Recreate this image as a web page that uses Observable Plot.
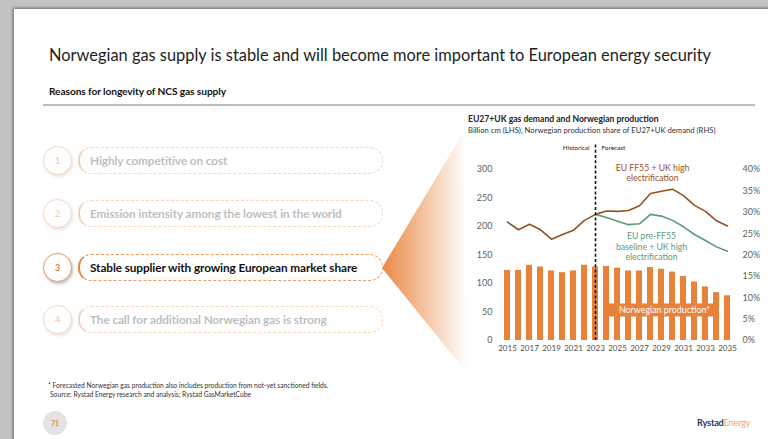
<!DOCTYPE html>
<html>
<head>
<meta charset="utf-8">
<script src="https://cdn.jsdelivr.net/npm/d3@7"></script>
<script src="https://cdn.jsdelivr.net/npm/@observablehq/plot@0.6"></script>
<style>
  html, body { margin: 0; padding: 0; }
  body { width: 768px; height: 439px; overflow: hidden; background: #c2c2c2; font-family: Lato, "Open Sans", sans-serif; }
  #slide { position: absolute; left: 14px; top: 9px; width: 770px; height: 440px; background: #fff;
           box-shadow: -1px -1px 3px rgba(0,0,0,0.45); }
  .abs { position: absolute; white-space: nowrap; }
  #title { left: 49px; top: 45px; font-size: 16.4px; color: #1e1e1e; }
  #sub { left: 49px; top: 85px; font-size: 10.2px; font-weight: 700; color: #111; letter-spacing: -0.1px; }
  #hr { left: 43px; top: 104px; width: 712px; height: 2px; background: #bdbdbd; }
  .item { position: absolute; left: 43px; height: 30px; }
  .circ { position: absolute; left: 0; top: 0; width: 27px; height: 27px; border-radius: 50%;
          border: 1.5px solid #ef9a5e; background: #fff; display: flex; align-items: center; justify-content: center;
          font-size: 9px; font-weight: 700; color: #e8823a; box-shadow: 1px 2px 3px rgba(0,0,0,0.25); }
  .pill { position: absolute; left: 35px; top: 1px; width: 292px; height: 25px; border-radius: 13px;
          border: 1px dashed #ef9a5e; border-left: 2px solid #e8823a; background: #fff;
          display: flex; align-items: center; padding-left: 10px; box-sizing: content-box;
          font-size: 11.8px; font-weight: 700; color: #111; letter-spacing: -0.1px; }
  .faded { opacity: 0.38; }
  .faded .pill { color: #555; }
  #ctitle { left: 468px; top: 114px; font-size: 8.6px; font-weight: 700; color: #222; }
  #csub { left: 468px; top: 125px; font-size: 7.7px; color: #333; }
  #chart { position: absolute; left: 460px; top: 140px; }
  #foot1 { left: 48px; top: 381px; font-size: 6.7px; color: #333; }
  #foot2 { left: 50px; top: 390px; font-size: 6.7px; color: #333; }
  #pnum { left: 43px; top: 411px; width: 24px; height: 24px; border-radius: 50%; background: #e3e3e3;
          display: flex; align-items: center; justify-content: center; font-size: 6.5px; color: #e8823a; font-weight: 700; }
  #logo { left: 697px; top: 417px; font-size: 9.2px; font-weight: 700; color: #2b3a55; letter-spacing: -0.2px; }
  #logo span { color: #f2a467; font-weight: 400; }
</style>
</head>
<body>
<div id="slide"></div>
<svg class="abs" style="left:0;top:0" width="768" height="439" id="deco">
  <defs>
    <linearGradient id="fan" x1="0" x2="1" y1="0" y2="0">
      <stop offset="0" stop-color="#e8823a" stop-opacity="0.95"/>
      <stop offset="1" stop-color="#e8823a" stop-opacity="0.0"/>
    </linearGradient>
  </defs>
  <polygon points="382,268 463,133 467,373" fill="url(#fan)"/>
</svg>
<div class="abs" id="title">Norwegian gas supply is stable and will become more important to European energy security</div>
<div class="abs" id="sub">Reasons for longevity of NCS gas supply</div>
<div class="abs" id="hr"></div>
<div id="items"></div>
<div class="abs" id="ctitle">EU27+UK gas demand and Norwegian production</div>
<div class="abs" id="csub">Billion cm (LHS), Norwegian production share of EU27+UK demand (RHS)</div>
<div id="chart"></div>
<div class="abs" id="foot1">* Forecasted Norwegian gas production also includes production from not-yet sanctioned fields.</div>
<div class="abs" id="foot2">Source: Rystad Energy research and analysis; Rystad GasMarketCube</div>
<div class="abs" id="pnum">71</div>
<div class="abs" id="logo">Rystad<span>Energy</span></div>
<script>
// ---- Data ----
const reasons = [
  "Highly competitive on cost",
  "Emission intensity among the lowest in the world",
  "Stable supplier with growing European market share",
  "The call for additional Norwegian gas is strong"
];
const activeReason = 3;

const years = [2015, 2016, 2017, 2018, 2019, 2020, 2021, 2022, 2023, 2024, 2025,
               2026, 2027, 2028, 2029, 2030, 2031, 2032, 2033, 2034, 2035];
const production = [123, 123, 132, 129, 122, 119, 122, 132, 129, 130, 127,
                    122, 122, 128, 125, 120, 112.5, 102.5, 94, 84, 78.5];
// Norwegian production share of EU27+UK demand (%), scenario EU FF55 + UK high electrification
const shareFF55 = [27.7, 25.9, 27.2, 25.9, 23.7, 24.8, 25.8, 28.1, 29.5, 30.3, 30.2,
                   30.4, 31.5, 34.4, 34.9, 35.4, 33.9, 31.6, 30.2, 28.0, 26.8];
// scenario EU pre-FF55 baseline + UK high electrification (2023 onward)
const preYears = [2023, 2024, 2025, 2026, 2027, 2028, 2029, 2030, 2031, 2032, 2033, 2034, 2035];
const sharePreFF55 = [29.5, 28.75, 27.9, 27.1, 27.3, 29.5, 29.1, 28.1, 26.6, 24.8, 23.4, 21.9, 20.9];

const lhsTicks = [0, 50, 100, 150, 200, 250, 300];
const rhsTicks = [0, 5, 10, 15, 20, 25, 30, 35, 40];
const rhsLabels = ["0%", "5%", "10%", "15%", "20%", "25%", "30%", "35%", "40%"];
const xTickYears = [2015, 2017, 2019, 2021, 2023, 2025, 2027, 2029, 2031, 2033, 2035];
const splitYear = 2023;

const orange = "#e8823a", brown = "#97501f", green = "#5b9a7c";
const shareToLhs = 300 / 40; // 40% on RHS aligns with 300 on LHS

// ---- Left list ----
const itemsEl = document.getElementById("items");
const itemTops = [146, 199, 253, 305];
reasons.forEach((r, i) => {
  const d = document.createElement("div");
  d.className = "item" + (i + 1 === activeReason ? "" : " faded");
  d.style.top = itemTops[i] + "px";
  d.innerHTML = `<div class="pill">${r}</div><div class="circ">${i + 1}</div>`;
  itemsEl.appendChild(d);
});

// ---- Chart ----
const prodRows = years.map((y, i) => ({year: y, value: production[i]}));
const ff55Rows = years.map((y, i) => ({year: y, value: shareFF55[i] * shareToLhs}));
const preRows = preYears.map((y, i) => ({year: y, value: sharePreFF55[i] * shareToLhs}));

const chart = Plot.plot({
  width: 305,
  height: 220,
  marginLeft: 41,
  marginRight: 31,
  marginTop: 29,
  marginBottom: 20,
  style: {fontFamily: "Lato, 'Open Sans', sans-serif", fontSize: "9px", color: "#606060", background: "transparent", overflow: "visible"},
  x: {type: "band", domain: years, paddingInner: 0.45, paddingOuter: 0.225, axis: null},
  y: {domain: [0, 300], axis: null},
  marks: [
    Plot.barY(prodRows, {x: "year", y: "value", fill: orange}),
    Plot.ruleY([53.6], {x1: 2024, x2: 2034, stroke: orange, strokeWidth: 13}),
    Plot.text(["Norwegian production*"], {x: 2029, y: 53.6, dx: 3, fill: "white", fontSize: 8.9}),
    Plot.line(ff55Rows, {x: "year", y: "value", stroke: brown, strokeWidth: 1.6}),
    Plot.line(preRows, {x: "year", y: "value", stroke: green, strokeWidth: 1.6}),
    Plot.ruleX([splitYear], {y1: 0, y2: 346, stroke: "#111", strokeWidth: 1.6, strokeDasharray: "3,2.2"}),
    Plot.text(["Historical"], {x: splitYear, y: 337, dx: -6, textAnchor: "end", fill: "#222", fontSize: 6.4}),
    Plot.text(["Forecast"], {x: splitYear, y: 337, dx: 6, textAnchor: "start", fill: "#222", fontSize: 6.4}),
    Plot.text(["EU FF55 + UK high\nelectrification"], {x: 2028, y: 294, dx: 2, fill: brown, fontSize: 8.7, lineHeight: 1.2}),
    Plot.text(["EU pre-FF55\nbaseline + UK high\nelectrification"], {x: 2028, y: 165, dx: 1, fill: green, fontSize: 8.7, lineHeight: 1.18}),
    Plot.axisY({ticks: lhsTicks, anchor: "left", tickSize: 0, tickPadding: 9, fontSize: 9, label: null}),
    Plot.axisY({ticks: rhsTicks.map(t => t * shareToLhs), anchor: "right", tickSize: 0, tickPadding: 8, fontSize: 9, label: null,
                tickFormat: d => rhsLabels[rhsTicks.indexOf(d / shareToLhs)]}),
    Plot.axisX({ticks: xTickYears, tickSize: 0, tickPadding: 5, fontSize: 8, fill: "#505050", label: null,
                tickFormat: d => String(d)})
  ]
});
document.getElementById("chart").appendChild(chart);
</script>
</body>
</html>
